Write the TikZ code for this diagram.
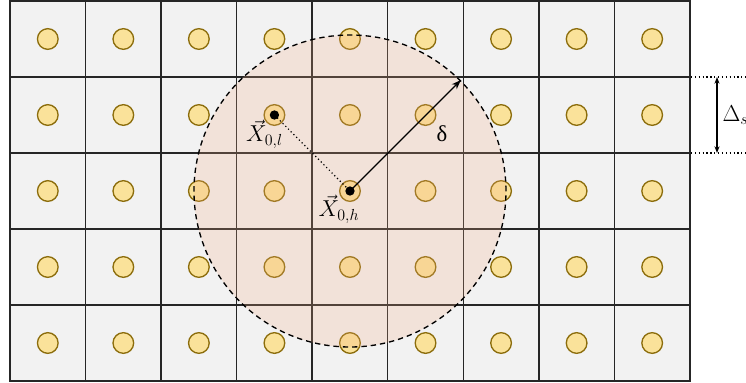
\documentclass[tikz,border=0pt]{standalone}
\usepackage{fontspec}
\usepackage{tikz}
\usetikzlibrary{arrows.meta,positioning,calc}
\newfontfamily\grkfont{Liberation Serif}
\definecolor{cellgray}{HTML}{F2F2F2}
\definecolor{gridline}{HTML}{262626}
\definecolor{partfill}{HTML}{FAE29A}
\definecolor{partedge}{HTML}{8C6D0C}
\definecolor{zonefill}{HTML}{F2AC84}
\tikzset{
  cellbox/.style={draw=gridline, fill=cellgray, line width=1.1pt},
  particle/.style={circle, draw=partedge, fill=partfill, line width=1pt,
    minimum size=15.5pt, inner sep=0pt},
  zone/.style={circle, draw=black, fill=zonefill, fill opacity=0.22,
    line width=1pt, dash pattern=on 4pt off 3pt, inner sep=0pt,
    minimum size=234pt},
  centerdot/.style={circle, fill=black, minimum size=7pt, inner sep=0pt},
  symlabel/.style={font=\fontsize{17}{20}\selectfont, inner sep=1pt},
  guide/.style={dotted, line width=0.9pt},
}
\begin{document}
\begin{tikzpicture}[x=0.75pt, y=-0.75pt]
  \useasboundingbox (0,0) rectangle (746,382);
  % cells and particles
  \foreach \i in {0,...,8}
    \foreach \j in {0,...,4}
      \draw[cellbox] (10+\i*75.55, 1+\j*76) rectangle ++(75.55,76);
  \foreach \i in {0,...,8}
    \foreach \j in {0,...,4}
      \node[particle] (p-\i-\j) at (47.78+\i*75.55, 39+\j*76) {};
  % cut-off sphere
  \node[zone] (cutoff) at (p-4-2) {};
  \node[centerdot] (home) at (p-4-2) {};
  \node[centerdot] (other) at (p-3-1) {};
  \draw[guide] (other.center) -- (home.center);
  \draw[-{Stealth[length=7pt]}, line width=0.9pt] (home.center) -- (cutoff.45);
  \node[symlabel] (xl) at ($(other)+(-10,19)$) {$\vec{X}_{0,l}$};
  \node[symlabel] (xh) at ($(home)+(-11,18)$) {$\vec{X}_{0,h}$};
  \node[symlabel] (delta) at (442,134) {\grkfont δ};
  % cell size
  \coordinate (ds-top) at (717,77);
  \coordinate (ds-bot) at (717,153);
  \draw[guide] (691,77) -- (746,77);
  \draw[guide] (691,153) -- (746,153);
  \draw[{Stealth[length=5pt]}-{Stealth[length=5pt]}, line width=0.9pt] (ds-top) -- (ds-bot);
  \node[symlabel, anchor=west] (ds) at (721,115) {$\Delta_s$};
\end{tikzpicture}
\end{document}
